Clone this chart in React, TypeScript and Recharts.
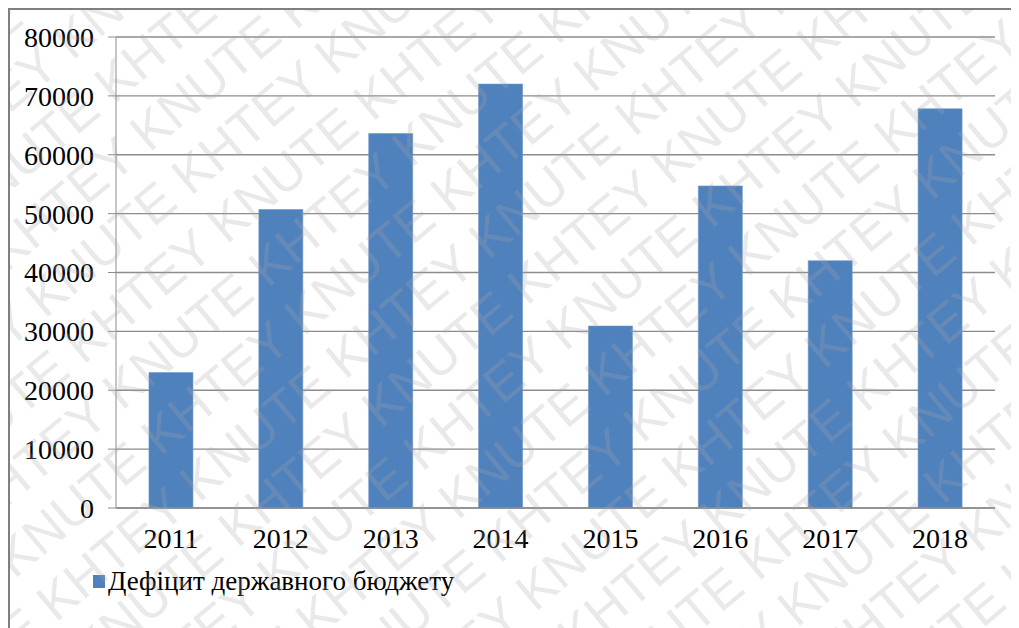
import React from "react";
import { BarChart, Bar, XAxis, YAxis, CartesianGrid, Legend } from "recharts";

const YEARS = ["2011", "2012", "2013", "2014", "2015", "2016", "2017", "2018"];
const DEFICIT = [23000, 50700, 63600, 72000, 30900, 54700, 42000, 67800];
const Y_TICKS = [0, 10000, 20000, 30000, 40000, 50000, 60000, 70000, 80000];
const EDGE_TICKS = [0, 1, 2, 3, 4, 5, 6, 7, 8];
const SERIES_NAME = "Дефіцит державного бюджету";

const BAR_COLOR = "#4f81bd";
const GRID_COLOR = "#8c8c8c";
const FONT = "'Liberation Serif', 'Times New Roman', serif";

const data = YEARS.map((year, i) => ({ year, value: DEFICIT[i] }));

function LegendBox() {
  return (
    <div style={{ display: "flex", alignItems: "center", fontFamily: FONT, fontSize: 27, color: "#000" }}>
      <span style={{ width: 12, height: 13, background: BAR_COLOR, display: "inline-block", marginRight: 3 }} />
      <span>{SERIES_NAME}</span>
    </div>
  );
}

// faint diagonal "KNUTE KHTEY" stamp over the picture
function Watermark() {
  const rows = [];
  for (let i = -14; i < 26; i++) {
    rows.push(
      <text key={i} x={-900} y={i * 60} fontSize={52} fontFamily="'Liberation Sans', Arial, sans-serif"
        fill="#a8a8a8" fillOpacity={0.25}>
        {(i % 2 === 0 ? "KNUTE KHTEY " : "KHTEY KNUTE ").repeat(12)}
      </text>
    );
  }
  return (
    <svg width={1011} height={620} style={{ position: "absolute", left: 0, top: 0, pointerEvents: "none" }}>
      <g transform="translate(300,400) rotate(-40)">{rows}</g>
    </svg>
  );
}

export default function App() {
  return (
    <div style={{
      position: "relative", width: 1011, height: 620, boxSizing: "border-box",
      borderTop: "2px solid #7f7f7f", borderLeft: "2px solid #7f7f7f", background: "#fff", overflow: "hidden",
    }}>
      <BarChart width={1009} height={618} data={data} barCategoryGap="30%"
        margin={{ top: 27, right: 24, left: 0, bottom: 0 }}>
        <CartesianGrid horizontal vertical={false} stroke={GRID_COLOR} strokeWidth={1.3} />
        <YAxis domain={[0, 80000]} ticks={Y_TICKS} width={106} tickSize={8} tickMargin={14}
          axisLine={{ stroke: GRID_COLOR }} tickLine={{ stroke: GRID_COLOR }}
          tick={{ fill: "#000", fontSize: 28, fontFamily: FONT }} />
        <XAxis dataKey="year" xAxisId="cat" height={60} tickSize={0} tickMargin={20}
          axisLine={{ stroke: GRID_COLOR, strokeWidth: 1.3 }} tickLine={false}
          tick={{ fill: "#000", fontSize: 28, fontFamily: FONT }} />
        <XAxis xAxisId="edge" type="number" domain={[0, 8]} ticks={EDGE_TICKS} height={0}
          tickSize={8} axisLine={false} tickLine={{ stroke: GRID_COLOR }} tick={false} />
        <Legend verticalAlign="bottom" align="left" content={() => <LegendBox />}
          wrapperStyle={{ position: "absolute", left: 83, top: 556, bottom: "auto", height: 60, width: 520 }} />
        <Bar dataKey="value" xAxisId="cat" name={SERIES_NAME} fill={BAR_COLOR} stroke="#6d97c9" strokeWidth={0.6}
          isAnimationActive={false} />
      </BarChart>
      <Watermark />
    </div>
  );
}
